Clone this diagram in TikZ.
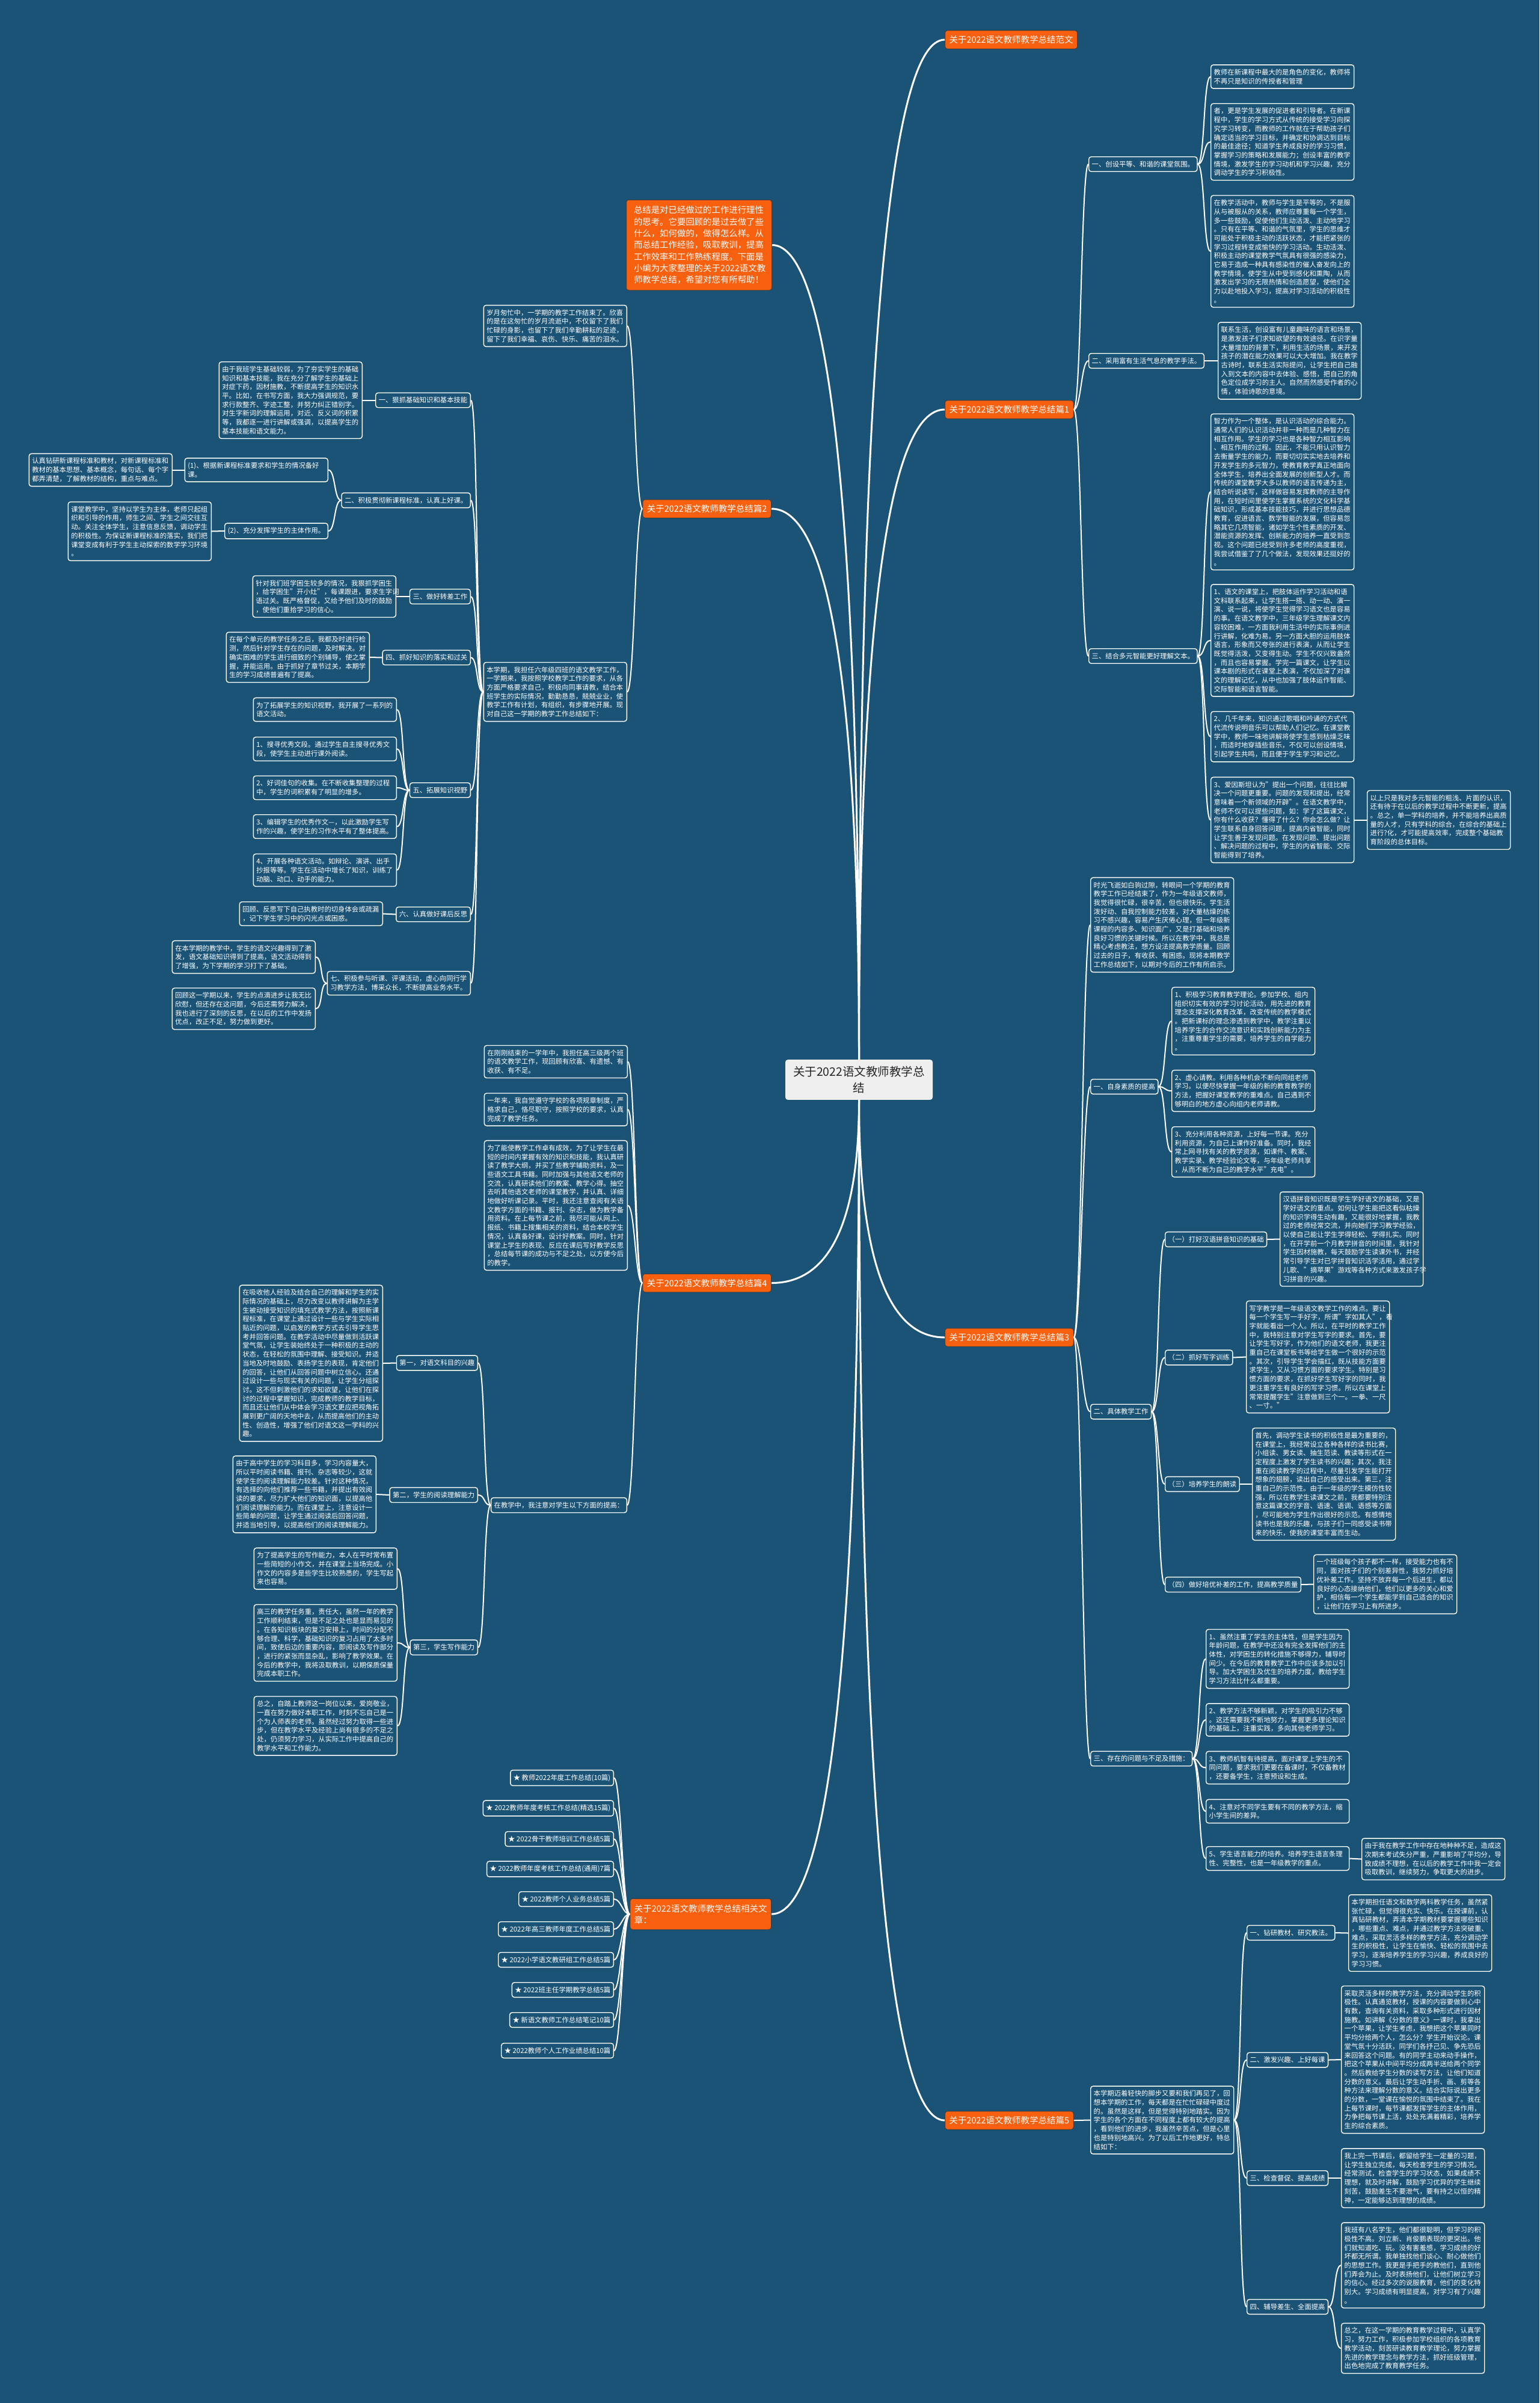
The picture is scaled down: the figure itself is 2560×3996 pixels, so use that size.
\documentclass[tikz,border=0pt]{standalone}
\usepackage{fontspec}
\setmainfont{Noto Sans CJK SC}
\usepackage{tikz}
\usetikzlibrary{calc}
\definecolor{bg}{RGB}{27,83,119}
\definecolor{orng}{RGB}{246,96,14}
\definecolor{rootfill}{RGB}{239,239,239}
\newcommand\boxfont{\fontsize{11.35}{14.7}\selectfont}
\newcommand\topicfont{\fontsize{14.5}{19}\selectfont}
\newcommand\introfont{\fontsize{14.4}{19.3}\selectfont}
\newcommand\rootfont{\fontsize{19.5}{26.5}\selectfont}
\tikzstyle{rootnode} = [rectangle, rounded corners=4pt, fill=rootfill, text=black!85, font=\rootfont, text width=222pt, align=center, inner xsep=11.5pt, inner ysep=11pt]
\tikzstyle{topic} = [rectangle, rounded corners=4pt, draw=black!75, line width=1pt, fill=orng, text=white, font=\topicfont, inner xsep=7pt, inner ysep=8.5pt]
\tikzstyle{introbox} = [rectangle, rounded corners=4pt, draw=black!75, line width=1pt, fill=orng, text=white, font=\introfont, text width=217pt, align=left, inner xsep=12.5pt, inner ysep=10.5pt]
\tikzstyle{textbox} = [rectangle, rounded corners=4pt, draw=white, line width=1.4pt, fill=bg, text=white, font=\boxfont, text width=228pt, align=left, inner xsep=5pt, inner ysep=7pt]
\tikzstyle{subtopic} = [rectangle, rounded corners=4pt, draw=white, line width=1.4pt, fill=bg, text=white, font=\boxfont, inner xsep=5pt, inner ysep=7pt]
\tikzstyle{link} = [draw=white, line width=2pt]
\tikzstyle{trunk} = [draw=white, line width=3pt]
\tikzstyle{rcurve} = [to path={.. controls +(12,0) and +(-12,0) .. (\tikztotarget)}]
\tikzstyle{lcurve} = [to path={.. controls +(-12,0) and +(12,0) .. (\tikztotarget)}]

\begin{document}
\begin{tikzpicture}[x=1pt, y=-1pt]

    \path [fill=bg, use as bounding box] (0,0) rectangle (2560,3996);

    \node (root) [rootnode] at (1428.5,1795.5) {关于2022语文教师教学总\\结};

    \node (sample) [topic, anchor=west] at (1571,66) {关于2022语文教师教学总结范文};

    \node (intro) [introbox, anchor=east] at (1284,407.5) {总结是对已经做过的工作进行理性\\的思考。它要回顾的是过去做了些\\什么，如何做的，做得怎么样。从\\而总结工作经验，吸取教训，提高\\工作效率和工作熟练程度。下面是\\小编为大家整理的关于2022语文教\\师教学总结，希望对您有所帮助！};

    \node (part_one) [topic, anchor=west] at (1571,681) {关于2022语文教师教学总结篇1};

    \node (part_two) [topic, anchor=east] at (1283,846) {关于2022语文教师教学总结篇2};

    \node (part_three) [topic, anchor=west] at (1571,2224) {关于2022语文教师教学总结篇3};

    \node (part_four) [topic, anchor=east] at (1283,2133.5) {关于2022语文教师教学总结篇4};

    \node (related) [topic, anchor=east, align=left, inner ysep=9.5pt] at (1283,3183) {关于2022语文教师教学总结相关文\\章：};

    \node (part_five) [topic, anchor=west] at (1571,3526) {关于2022语文教师教学总结篇5};

    % part one
    \node (p1_a) [subtopic, anchor=west] at (1810,273) {一、创设平等、和谐的课堂氛围。};

    \node (p1_a1) [textbox, anchor=west] at (2013,127.5) {教师在新课程中最大的是角色的变化，教师将\\不再只是知识的传授者和管理};

    \node (p1_a2) [textbox, anchor=west] at (2013,236) {者，更是学生发展的促进者和引导者。在新课\\程中，学生的学习方式从传统的接受学习向探\\究学习转变，而教师的工作就在于帮助孩子们\\确定适当的学习目标，并确定和协调达到目标\\的最佳途径；知道学生养成良好的学习习惯，\\掌握学习的策略和发展能力；创设丰富的教学\\情境，激发学生的学习动机和学习兴趣，充分\\调动学生的学习积极性。};

    \node (p1_a3) [textbox, anchor=west] at (2013,418) {在教学活动中，教师与学生是平等的，不是服\\从与被服从的关系，教师应尊重每一个学生，\\多一些鼓励，促使他们生动活泼、主动地学习\\。只有在平等、和谐的气氛里，学生的思维才\\可能处于积极主动的活跃状态，才能把紧张的\\学习过程转变成愉快的学习活动。生动活泼、\\积极主动的课堂教学气氛具有很强的感染力，\\它易于造成一种具有感染性的催人奋发向上的\\教学情境，使学生从中受到感化和熏陶，从而\\激发出学习的无限热情和创造愿望，使他们全\\力以赴地投入学习，提高对学习活动的积极性\\。};

    \node (p1_b) [subtopic, anchor=west] at (1810,600) {二、采用富有生活气息的教学手法。};

    \node (p1_b1) [textbox, anchor=west] at (2025,600) {联系生活，创设富有儿童趣味的语言和场景，\\是激发孩子们求知欲望的有效途径。在识字量\\大量增加的背景下，利用生活的场景，来开发\\孩子的潜在能力效果可以大大增加。我在教学\\古诗时，联系生活实际提问，让学生把自己融\\入到文本的内容中去体验、感悟，把自己的角\\色定位成学习的主人。自然而然感受作者的心\\情，体验诗歌的意境。};

    \node (p1_c) [subtopic, anchor=west] at (1810,1091) {三、结合多元智能更好理解文本。};

    \node (p1_c1) [textbox, anchor=west] at (2013,818) {智力作为一个整体，是认识活动的综合能力。\\通常人们的认识活动并非一种而是几种智力在\\相互作用。学生的学习也是各种智力相互影响\\、相互作用的过程。因此，不能只用认识智力\\去衡量学生的能力，而要切切实实地去培养和\\开发学生的多元智力，使教育教学真正地面向\\全体学生，培养出全面发展的创新型人才。而\\传统的课堂教学大多以教师的语言传递为主，\\结合听说读写，这样做容易发挥教师的主导作\\用，在短时间里使学生掌握系统的文化科学基\\础知识，形成基本技能技巧，并进行思想品德\\教育，促进语言、数学智能的发展，但容易忽\\略其它几项智能，诸如学生个性素质的开发、\\潜能资源的发挥、创新能力的培养一直受到忽\\视。这个问题已经受到许多老师的高度重视，\\我尝试借鉴了了几个做法，发现效果还挺好的\\。};

    \node (p1_c2) [textbox, anchor=west] at (2013,1065) {1、语文的课堂上，把肢体运作学习活动和语\\文科联系起来，让学生搭一搭、动一动、演一\\演、说一说，将使学生觉得学习语文也是容易\\的事。在语文教学中，三年级学生理解课文内\\容较困难，一方面我利用生活中的实际事例进\\行讲解，化难为易。另一方面大胆的运用肢体\\语言，形象而又夸张的进行表演，从而让学生\\既觉得活泼，又变得生动。学生不仅兴致盎然\\，而且也容易掌握。学完一篇课文，让学生以\\课本剧的形式在课堂上表演，不仅加深了对课\\文的理解记忆，从中也加强了肢体运作智能、\\交际智能和语言智能。};

    \node (p1_c3) [textbox, anchor=west] at (2013,1225) {2、几千年来，知识通过歌唱和吟诵的方式代\\代流传说明音乐可以帮助人们记忆。在课堂教\\学中，教师一味地讲解将使学生感到枯燥乏味\\，而适时地穿插些音乐，不仅可以创设情境，\\引起学生共鸣，而且便于学生学习和记忆。};

    \node (p1_c4) [textbox, anchor=west] at (2013,1363.5) {3、爱因斯坦认为"提出一个问题，往往比解\\决一个问题更重要。问题的发现和提出，经常\\意味着一个新领域的开辟"。在语文教学中，\\老师不仅可以提些问题，如：学了这篇课文，\\你有什么收获？懂得了什么？你会怎么做？让\\学生联系自身回答问题，提高内省智能，同时\\让学生善于发现问题。在发现问题、提出问题\\、解决问题的过程中，学生的内省智能、交际\\智能得到了培养。};

    \node (p1_c5) [textbox, anchor=west] at (2273,1363.5) {以上只是我对多元智能的粗浅、片面的认识，\\还有待于在以后的教学过程中不断更新，提高\\。总之，单一学科的培养，并不能培养出高质\\量的人才，只有学科的综合，在综合的基础上\\进行?化，才可能提高效率，完成整个基础教\\育阶段的总体目标。};

    % part two
    \node (p2_open) [textbox, anchor=east] at (1043,542) {岁月匆忙中，一学期的教学工作结束了。欣喜\\的是在这匆忙的岁月流逝中，不仅留下了我们\\忙碌的身影，也留下了我们辛勤耕耘的足迹，\\留下了我们幸福、哀伤、快乐、痛苦的泪水。};

    \node (p2_main) [textbox, anchor=east] at (1043,1150.5) {本学期，我担任六年级四班的语文教学工作，\\一学期来，我按照学校教学工作的要求，从各\\方面严格要求自己，积极向同事请教，结合本\\班学生的实际情况，勤勤恳恳，兢兢业业，使\\教学工作有计划，有组织，有步骤地开展。现\\对自己这一学期的教学工作总结如下：};

    \node (p2_a) [subtopic, anchor=east] at (783,665.5) {一、狠抓基础知识和基本技能};

    \node (p2_a1) [textbox, anchor=east] at (603,665.5) {由于我班学生基础较弱，为了夯实学生的基础\\知识和基本技能，我在充分了解学生的基础上\\对症下药，因材施教，不断提高学生的知识水\\平。比如，在书写方面，我大力强调规范，要\\求行款整齐、字迹工整，并努力纠正错别字。\\对生字新词的理解运用，对近、反义词的积累\\等，我都逐一进行讲解或强调，以提高学生的\\基本技能和语文能力。};

    \node (p2_b) [subtopic, anchor=east] at (783,832) {二、积极贯彻新课程标准，认真上好课。};

    \node (p2_b1) [textbox, anchor=east] at (546,781.5) {(1)、根据新课程标准要求和学生的情况备好\\课。};

    \node (p2_b1t) [textbox, anchor=east] at (287,781.5) {认真钻研新课程标准和教材，对新课程标准和\\教材的基本思想、基本概念，每句话、每个字\\都弄清楚，了解教材的结构，重点与难点。};

    \node (p2_b2) [subtopic, anchor=east] at (546,883) {(2)、充分发挥学生的主体作用。};

    \node (p2_b2t) [textbox, anchor=east] at (352,883.5) {课堂教学中，坚持以学生为主体，老师只起组\\织和引导的作用，师生之间、学生之间交往互\\动。关注全体学生，注意信息反馈，调动学生\\的积极性。为保证新课程标准的落实，我们把\\课堂变成有利于学生主动探索的数学学习环境\\。};

    \node (p2_c) [subtopic, anchor=east] at (783,992) {三、做好转差工作};

    \node (p2_c1) [textbox, anchor=east] at (659,992) {针对我们班学困生较多的情况，我狠抓学困生\\，给学困生"开小灶"，每课跟进，要求生字词\\语过关。既严格督促，又给予他们及时的鼓励\\，使他们重拾学习的信心。};

    \node (p2_d) [subtopic, anchor=east] at (783,1093.5) {四、抓好知识的落实和过关};

    \node (p2_d1) [textbox, anchor=east] at (615,1093) {在每个单元的教学任务之后，我都及时进行检\\测，然后针对学生存在的问题，及时解决。对\\确实困难的学生进行细致的个别辅导，使之掌\\握，并能运用。由于抓好了章节过关，本期学\\生的学习成绩普遍有了提高。};

    \node (p2_e) [subtopic, anchor=east] at (783,1314) {五、拓展知识视野};

    \node (p2_e0) [textbox, anchor=east] at (660,1180) {为了拓展学生的知识视野，我开展了一系列的\\语文活动。};

    \node (p2_e1) [textbox, anchor=east] at (660,1245.5) {1、搜寻优秀文段。通过学生自主搜寻优秀文\\段，使学生主动进行课外阅读。};

    \node (p2_e2) [textbox, anchor=east] at (660,1310) {2、好词佳句的收集。在不断收集整理的过程\\中，学生的词积累有了明显的增多。};

    \node (p2_e3) [textbox, anchor=east] at (660,1374.5) {3、编辑学生的优秀作文—，以此激励学生写\\作的兴趣，使学生的习作水平有了整体提高。};

    \node (p2_e4) [textbox, anchor=east] at (660,1447) {4、开展各种语文活动。如辩论、演讲、出手\\抄报等等。学生在活动中增长了知识，训练了\\动脑、动口、动手的能力。};

    \node (p2_f) [subtopic, anchor=east] at (783,1520.5) {六、认真做好课后反思};

    \node (p2_f1) [textbox, anchor=east] at (637,1519.5) {回顾、反思写下自己执教时的切身体会或疏漏\\，记下学生学习中的闪光点或困惑。};

    \node (p2_g) [textbox, anchor=east] at (783,1635) {七、积极参与听课、评课活动，虚心向同行学\\习教学方法，博采众长，不断提高业务水平。};

    \node (p2_g1) [textbox, anchor=east] at (525,1591.5) {在本学期的教学中，学生的语文兴趣得到了激\\发，语文基础知识得到了提高，语文活动得到\\了增强，为下学期的学习打下了基础。};

    \node (p2_g2) [textbox, anchor=east] at (525,1677.5) {回顾这一学期以来，学生的点滴进步让我无比\\欣慰，但还存在这问题，今后还需努力解决，\\我也进行了深刻的反思，在以后的工作中发扬\\优点，改正不足，努力做到更好。};

    % part three
    \node (p3_open) [textbox, anchor=west] at (1813,1538) {时光飞逝如白驹过隙，转眼间一个学期的教育\\教学工作已经结束了，作为一年级语文教师，\\我觉得很忙碌，很辛苦，但也很快乐。学生活\\泼好动、自我控制能力较差，对大量枯燥的练\\习不感兴趣，容易产生厌倦心理，但一年级新\\课程的内容多、知识面广，又是打基础和培养\\良好习惯的关键时候。所以在教学中，我总是\\精心考虑教法，想方设法提高教学质量。回顾\\过去的日子，有收获、有困惑。现将本期教学\\工作总结如下，以期对今后的工作有所启示。};

    \node (p3_a) [subtopic, anchor=west] at (1813,1807) {一、自身素质的提高};

    \node (p3_a1) [textbox, anchor=west] at (1948,1698) {1、积极学习教育教学理论。参加学校、组内\\组织切实有效的学习讨论活动，用先进的教育\\理念支撑深化教育改革，改变传统的教学模式\\。把新课标的理念渗透到教学中，教学注重以\\培养学生的合作交流意识和实践创新能力为主\\，注重尊重学生的需要，培养学生的自学能力\\。};

    \node (p3_a2) [textbox, anchor=west] at (1948,1814) {2、虚心请教。利用各种机会不断向同组老师\\学习。以便尽快掌握一年级的新的教育教学的\\方法，把握好课堂教学的重难点。自己遇到不\\够明白的地方虚心向组内老师请教。};

    \node (p3_a3) [textbox, anchor=west] at (1948,1915.5) {3、充分利用各种资源，上好每一节课。充分\\利用资源，为自己上课作好准备。同时，我经\\常上网寻找有关的教学资源，如课件、教案、\\教学实录、教学经验论文等，与年级老师共享\\，从而不断为自己的教学水平"充电"。};

    \node (p3_b) [subtopic, anchor=west] at (1813,2347.5) {二、具体教学工作};

    \node (p3_b1) [subtopic, anchor=west] at (1937,2061) {（一）打好汉语拼音知识的基础};

    \node (p3_b1t) [textbox, anchor=west] at (2128,2060.5) {汉语拼音知识既是学生学好语文的基础，又是\\学好语文的重点。如何让学生能把这看似枯燥\\的知识学得生动有趣，又能很好地掌握，我教\\过的老师经常交流，并向她们学习教学经验，\\以使自己能让学生学得轻松、学得扎实。同时\\，在开学前一个月教学拼音的时间里，我针对\\学生因材施教，每天鼓励学生读课外书，并经\\常引导学生对已学拼音知识活学活用，通过学\\儿歌、"摘苹果"游戏等各种方式来激发孩子学\\习拼音的兴趣。};

    \node (p3_b2) [subtopic, anchor=west] at (1937,2257.5) {（二）抓好写字训练};

    \node (p3_b2t) [textbox, anchor=west] at (2072,2256.5) {写字教学是一年级语文教学工作的难点。要让\\每一个学生写一手好字，所谓"字如其人"，看\\字就能看出一个人。所以，在平时的教学工作\\中，我特别注意对学生写字的要求。首先，要\\让学生写好字，作为他们的语文老师，我更注\\重自己在课堂板书等给学生做一个很好的示范\\。其次，引导学生学会描红，既从技能方面要\\求学生，又从习惯方面的要求学生。特别是习\\惯方面的要求，在抓好学生写好字的同时，我\\更注重学生有良好的写字习惯。所以在课堂上\\常常提醒学生"注意做到三个一。一拳、一尺\\、一寸。"};

    \node (p3_b3) [subtopic, anchor=west] at (1937,2468) {（三）培养学生的朗读};

    \node (p3_b3t) [textbox, anchor=west] at (2082,2468) {首先，调动学生读书的积极性是最为重要的，\\在课堂上，我经常设立各种各样的读书比赛，\\小组读、男女读、抽生范读、教读等形式在一\\定程度上激发了学生读书的兴趣；其次，我注\\重在阅读教学的过程中，尽量引发学生能打开\\想象的翅膀，读出自己的感受出来。第三，注\\重自己的示范性。由于一年级的学生模仿性较\\强，所以在教学生读课文之前，我都要特别注\\意这篇课文的字音、语速、语调、语感等方面\\，尽可能地为学生作出很好的示范。有感情地\\读书也是我的乐趣，与孩子们一同感受读书带\\来的快乐，使我的课堂丰富而生动。};

    \node (p3_b4) [subtopic, anchor=west] at (1937,2635) {（四）做好培优补差的工作，提高教学质量};

    \node (p3_b4t) [textbox, anchor=west] at (2184,2634.5) {一个班级每个孩子都不一样，接受能力也有不\\同，面对孩子们的个别差异性，我努力抓好培\\优补差工作。坚持不放弃每一个后进生，都以\\良好的心态接纳他们，他们以更多的关心和爱\\护，相信每一个学生都能学到自己适合的知识\\，让他们在学习上有所进步。};

    \node (p3_c) [subtopic, anchor=west] at (1813,2924.5) {三、存在的问题与不足及措施：};

    \node (p3_c1) [textbox, anchor=west] at (2005,2758.5) {1、虽然注重了学生的主体性，但是学生因为\\年龄问题，在教学中还没有完全发挥他们的主\\体性，对学困生的转化措施不够得力，辅导时\\间少。在今后的教育教学工作中应该多加以引\\导。加大学困生及优生的培养力度，教给学生\\学习方法比什么都重要。};

    \node (p3_c2) [textbox, anchor=west] at (2005,2860) {2、教学方法不够新颖，对学生的吸引力不够\\。这还需要我不断地努力，掌握更多理论知识\\的基础上，注重实践，多向其他老师学习。};

    \node (p3_c3) [textbox, anchor=west] at (2005,2939.5) {3、教师机智有待提高，面对课堂上学生的不\\同问题，要求我们更要在备课时，不仅备教材\\，还要备学生，注意预设和生成。};

    \node (p3_c4) [textbox, anchor=west] at (2005,3012) {4、注意对不同学生要有不同的教学方法，缩\\小学生间的差异。};

    \node (p3_c5) [textbox, anchor=west] at (2005,3090.5) {5、学生语言能力的培养。培养学生语言条理\\性、完整性，也是一年级教学的重点。};

    \node (p3_c6) [textbox, anchor=west] at (2264,3091.5) {由于我在教学工作中存在地种种不足，造成这\\次期末考试失分严重，严重影响了平均分，导\\致成绩不理想，在以后的教学工作中我一定会\\吸取教训，继续努力，争取更大的进步。};

    % part four
    \node (p4_m1) [textbox, anchor=east] at (1044,1765.5) {在刚刚结束的一学年中，我担任高三级两个班\\的语文教学工作，现回顾有欣喜、有遗憾、有\\收获、有不足。};

    \node (p4_m2) [textbox, anchor=east] at (1044,1845) {一年来，我自觉遵守学校的各项规章制度，严\\格求自己，恪尽职守，按照学校的要求，认真\\完成了教学任务。};

    \node (p4_m3) [textbox, anchor=east] at (1044,2004.5) {为了能使教学工作卓有成效，为了让学生在最\\短的时间内掌握有效的知识和技能，我认真研\\读了教学大纲，并买了些教学辅助资料，及一\\些语文工具书籍。同时加强与其他语文老师的\\交流，认真研读他们的教案、教学心得。抽空\\去听其他语文老师的课堂教学，并认真、详细\\地做好听课记录。平时，我还注意查阅有关语\\文教学方面的书籍、报刊、杂志，做为教学备\\用资料。在上每节课之前，我尽可能从网上、\\报纸、书籍上搜集相关的资料，结合本校学生\\情况，认真备好课，设计好教案。同时，针对\\课堂上学生的表现、反应在课后写好教学反思\\，总结每节课的成功与不足之处，以方便今后\\的教学。};

    \node (p4_key) [subtopic, anchor=east] at (1043,2503) {在教学中，我注意对学生以下方面的提高：};

    \node (p4_a) [subtopic, anchor=east] at (795,2266.5) {第一，对语文科目的兴趣};

    \node (p4_a1) [textbox, anchor=east] at (637,2267) {在吸收他人经验及结合自己的理解和学生的实\\际情况的基础上，尽力改变以教师讲解为主学\\生被动接受知识的填充式教学方法，按照新课\\程标准，在课堂上通过设计一些与学生实际相\\贴近的问题，以启发的教学方式去引导学生思\\考并回答问题。在教学活动中尽量做到活跃课\\堂气氛，让学生装始终处于一种积极的主动的\\状态，在轻松的氛围中理解、接受知识。并适\\当地及时地鼓励、表扬学生的表现，肯定他们\\的回答，让他们从回答问题中树立信心。还通\\过设计一些与现实有关的问题，让学生分组探\\讨。这不但刺激他们的求知欲望，让他们在探\\讨的过程中掌握知识，完成教师的教学目标，\\而且还让他们从中体会学习语文更应把视角拓\\展到更广阔的天地中去，从而提高他们的主动\\性、创造性，增强了他们对语文这一学科的兴\\趣。};

    \node (p4_b) [subtopic, anchor=east] at (795,2486) {第二，学生的阅读理解能力};

    \node (p4_b1) [textbox, anchor=east] at (626,2485) {由于高中学生的学习科目多，学习内容量大，\\所以平时阅读书籍、报刊、杂志等较少，这就\\使学生的阅读理解能力较差。针对这种情况，\\有选择的向他们推荐一些书籍，并提出有效阅\\读的要求，尽力扩大他们的知识面，以提高他\\们阅读理解的能力。而在课堂上，注意设计一\\些简单的问题，让学生通过阅读后回答问题，\\并适当地引导，以提高他们的阅读理解能力。};

    \node (p4_c) [subtopic, anchor=east] at (795,2739.5) {第三，学生写作能力};

    \node (p4_c1) [textbox, anchor=east] at (661,2608.5) {为了提高学生的写作能力，本人在平时常布置\\一些简短的小作文，并在课堂上当场完成。小\\作文的内容多是些学生比较熟悉的，学生写起\\来也容易。};

    \node (p4_c2) [textbox, anchor=east] at (661,2732) {高三的教学任务重，责任大，虽然一年的教学\\工作顺利结束，但是不足之处也是显而易见的\\。在各知识板块的复习安排上，时间的分配不\\够合理、科学，基础知识的复习占用了太多时\\间，致使后边的重要内容，即阅读及写作部分\\，进行的紧张而显杂乱，影响了教学效果。在\\今后的教学中，我将汲取教训，以期保质保量\\完成本职工作。};

    \node (p4_c3) [textbox, anchor=east] at (661,2870) {总之，自踏上教师这一岗位以来，爱岗敬业，\\一直在努力做好本职工作，时刻不忘自己是一\\个为人师表的老师。虽然经过努力取得一些进\\步，但在教学水平及经验上尚有很多的不足之\\处，仍须努力学习，从实际工作中提高自己的\\教学水平和工作能力。};

    % related articles
    \node (rel_1) [subtopic, anchor=east] at (1021,2956.5) {★ 教师2022年度工作总结(10篇)};

    \node (rel_2) [subtopic, anchor=east] at (1021,3007) {★ 2022教师年度考核工作总结(精选15篇)};

    \node (rel_3) [subtopic, anchor=east] at (1021,3058) {★ 2022骨干教师培训工作总结5篇};

    \node (rel_4) [subtopic, anchor=east] at (1021,3108) {★ 2022教师年度考核工作总结(通用)7篇};

    \node (rel_5) [subtopic, anchor=east] at (1021,3158) {★ 2022教师个人业务总结5篇};

    \node (rel_6) [subtopic, anchor=east] at (1021,3208) {★ 2022年高三教师年度工作总结5篇};

    \node (rel_7) [subtopic, anchor=east] at (1021,3259) {★ 2022小学语文教研组工作总结5篇};

    \node (rel_8) [subtopic, anchor=east] at (1021,3309) {★ 2022班主任学期教学总结5篇};

    \node (rel_9) [subtopic, anchor=east] at (1021,3359) {★ 新语文教师工作总结笔记10篇};

    \node (rel_10) [subtopic, anchor=east] at (1021,3410) {★ 2022教师个人工作业绩总结10篇};

    % part five
    \node (p5_open) [textbox, anchor=west] at (1813,3525.5) {本学期迈着轻快的脚步又要和我们再见了，回\\想本学期的工作，每天都是在忙忙碌碌中度过\\的。虽然是这样，但是觉得特别地踏实。因为\\学生的各个方面在不同程度上都有较大的提高\\，看到他们的进步，我虽然辛苦点，但是心里\\也是特别地高兴。为了以后工作地更好，特总\\结如下：};

    \node (p5_a) [subtopic, anchor=west] at (2073,3214) {一、钻研教材、研究教法。};

    \node (p5_a1) [textbox, anchor=west] at (2242,3214.5) {本学期担任语文和数学两科教学任务，虽然紧\\张忙碌，但觉得很充实、快乐。在授课前，认\\真钻研教材，弄清本学期教材要掌握哪些知识\\，哪些重点、难点，并通过教学方法突破重、\\难点，采取灵活多样的教学方法，充分调动学\\生的积极性，让学生在愉快、轻松的氛围中去\\学习，逐渐培养学生的学习兴趣，养成良好的\\学习习惯。};

    \node (p5_b) [subtopic, anchor=west] at (2073,3425.5) {二、激发兴趣、上好每课};

    \node (p5_b1) [textbox, anchor=west] at (2230,3425) {采取灵活多样的教学方法，充分调动学生的积\\极性。认真通览教材，授课的内容要做到心中\\有数，查询有关资料，采取多种形式进行因材\\施教。如讲解《分数的意义》一课时，我拿出\\一个苹果，让学生考虑，我想把这个苹果同时\\平均分给两个人，怎么分？学生开始议论。课\\堂气氛十分活跃，同学们各抒己见、争先恐后\\来回答这个问题。有的同学主动来动手操作，\\把这个苹果从中间平均分成两半送给两个同学\\。然后教给学生分数的读写方法，让他们知道\\分数的意义。最后让学生动手折、画、剪等各\\种方法来理解分数的意义。结合实际说出更多\\的分数，一堂课在愉悦的氛围中结束了。我在\\上每节课时，每节课都发挥学生的主体作用，\\力争把每节课上活，处处充满着精彩，培养学\\生的综合素质。};

    \node (p5_c) [subtopic, anchor=west] at (2073,3622) {三、检查督促、提高成绩};

    \node (p5_c1) [textbox, anchor=west] at (2230,3622) {我上完一节课后，都留给学生一定量的习题，\\让学生独立完成，每天检查学生的学习情况。\\经常测试，检查学生的学习状态，如果成绩不\\理想，就及时讲解，鼓励学习优异的学生继续\\刻苦，鼓励差生不要泄气，要有持之以恒的精\\神，一定能够达到理想的成绩。};

    \node (p5_d) [subtopic, anchor=west] at (2073,3836) {四、辅导差生、全面提高};

    \node (p5_d1) [textbox, anchor=west] at (2230,3767) {我班有八名学生，他们都很聪明，但学习的积\\极性不高。刘立新、肖俊鹏表现的更突出。他\\们就知道吃、玩。没有害羞感，学习成绩的好\\坏都无所谓。我单独找他们谈心、耐心做他们\\的思想工作。我更是手把手的教他们，直到他\\们弄会为止。及时表扬他们，让他们树立学习\\的信心。经过多次的说服教育，他们的变化特\\别大。学习成绩有明显提高，对学习有了兴趣\\。};

    \node (p5_d2) [textbox, anchor=west] at (2230,3905) {总之，在这一学期的教育教学过程中，认真学\\习，努力工作，积极参加学校组织的各项教育\\教学活动，刻苦研读教育教学理论，努力掌握\\先进的教学理念与教学方法，抓好班级管理，\\出色地完成了教育教学任务。};

    % connectors from the root
    \draw [trunk] (root.north) .. controls +(0,-1130) and +(-95,0) .. (sample.west);
    \draw [trunk] (root.north) .. controls +(0,-720) and +(-95,0) .. (part_one.west);
    \draw [trunk] (root.north) .. controls +(0,-902) and +(96,0) .. (intro.east);
    \draw [trunk] (root.north) .. controls +(0,-610) and +(97,0) .. (part_two.east);
    \draw [trunk] (root.south) .. controls +(0,202) and +(97,0) .. (part_four.east);
    \draw [trunk] (root.south) .. controls +(0,263) and +(-95,0) .. (part_three.west);
    \draw [trunk] (root.south) .. controls +(0,902) and +(97,0) .. (related.east);
    \draw [trunk] (root.south) .. controls +(0,1131) and +(-95,0) .. (part_five.west);

    \draw [link] (part_one.east) to[rcurve] (p1_a.west);
    \draw [link] (part_one.east) to[rcurve] (p1_b.west);
    \draw [link] (part_one.east) to[rcurve] (p1_c.west);
    \draw [link] (p1_a.east) to[rcurve] (p1_a1.west);
    \draw [link] (p1_a.east) to[rcurve] (p1_a2.west);
    \draw [link] (p1_a.east) to[rcurve] (p1_a3.west);
    \draw [link] (p1_b.east) to[rcurve] (p1_b1.west);
    \draw [link] (p1_c.east) to[rcurve] (p1_c1.west);
    \draw [link] (p1_c.east) to[rcurve] (p1_c2.west);
    \draw [link] (p1_c.east) to[rcurve] (p1_c3.west);
    \draw [link] (p1_c.east) to[rcurve] (p1_c4.west);
    \draw [link] (p1_c4.east) -- (p1_c5.west);

    \draw [link] (part_two.west) to[lcurve] (p2_open.east);
    \draw [link] (part_two.west) to[lcurve] (p2_main.east);
    \draw [link] (p2_main.west) to[lcurve] (p2_a.east);
    \draw [link] (p2_main.west) to[lcurve] (p2_b.east);
    \draw [link] (p2_main.west) to[lcurve] (p2_c.east);
    \draw [link] (p2_main.west) to[lcurve] (p2_d.east);
    \draw [link] (p2_main.west) to[lcurve] (p2_e.east);
    \draw [link] (p2_main.west) to[lcurve] (p2_f.east);
    \draw [link] (p2_main.west) to[lcurve] (p2_g.east);
    \draw [link] (p2_a.west) -- (p2_a1.east);
    \draw [link] (p2_b.west) to[lcurve] (p2_b1.east);
    \draw [link] (p2_b.west) to[lcurve] (p2_b2.east);
    \draw [link] (p2_b1.west) -- (p2_b1t.east);
    \draw [link] (p2_b2.west) -- (p2_b2t.east);
    \draw [link] (p2_c.west) -- (p2_c1.east);
    \draw [link] (p2_d.west) -- (p2_d1.east);
    \draw [link] (p2_e.west) to[lcurve] (p2_e0.east);
    \draw [link] (p2_e.west) to[lcurve] (p2_e1.east);
    \draw [link] (p2_e.west) to[lcurve] (p2_e2.east);
    \draw [link] (p2_e.west) to[lcurve] (p2_e3.east);
    \draw [link] (p2_e.west) to[lcurve] (p2_e4.east);
    \draw [link] (p2_f.west) -- (p2_f1.east);
    \draw [link] (p2_g.west) to[lcurve] (p2_g1.east);
    \draw [link] (p2_g.west) to[lcurve] (p2_g2.east);

    \draw [link] (part_three.east) to[rcurve] (p3_open.west);
    \draw [link] (part_three.east) to[rcurve] (p3_a.west);
    \draw [link] (part_three.east) to[rcurve] (p3_b.west);
    \draw [link] (part_three.east) to[rcurve] (p3_c.west);
    \draw [link] (p3_a.east) to[rcurve] (p3_a1.west);
    \draw [link] (p3_a.east) to[rcurve] (p3_a2.west);
    \draw [link] (p3_a.east) to[rcurve] (p3_a3.west);
    \draw [link] (p3_b.east) to[rcurve] (p3_b1.west);
    \draw [link] (p3_b.east) to[rcurve] (p3_b2.west);
    \draw [link] (p3_b.east) to[rcurve] (p3_b3.west);
    \draw [link] (p3_b.east) to[rcurve] (p3_b4.west);
    \draw [link] (p3_b1.east) -- (p3_b1t.west);
    \draw [link] (p3_b2.east) -- (p3_b2t.west);
    \draw [link] (p3_b3.east) -- (p3_b3t.west);
    \draw [link] (p3_b4.east) -- (p3_b4t.west);
    \draw [link] (p3_c.east) to[rcurve] (p3_c1.west);
    \draw [link] (p3_c.east) to[rcurve] (p3_c2.west);
    \draw [link] (p3_c.east) to[rcurve] (p3_c3.west);
    \draw [link] (p3_c.east) to[rcurve] (p3_c4.west);
    \draw [link] (p3_c.east) to[rcurve] (p3_c5.west);
    \draw [link] (p3_c5.east) -- (p3_c6.west);

    \draw [link] (part_four.west) to[lcurve] (p4_m1.east);
    \draw [link] (part_four.west) to[lcurve] (p4_m2.east);
    \draw [link] (part_four.west) to[lcurve] (p4_m3.east);
    \draw [link] (part_four.west) to[lcurve] (p4_key.east);
    \draw [link] (p4_key.west) to[lcurve] (p4_a.east);
    \draw [link] (p4_key.west) to[lcurve] (p4_b.east);
    \draw [link] (p4_key.west) to[lcurve] (p4_c.east);
    \draw [link] (p4_a.west) -- (p4_a1.east);
    \draw [link] (p4_b.west) -- (p4_b1.east);
    \draw [link] (p4_c.west) to[lcurve] (p4_c1.east);
    \draw [link] (p4_c.west) to[lcurve] (p4_c2.east);
    \draw [link] (p4_c.west) to[lcurve] (p4_c3.east);

    \draw [link] (related.west) to[lcurve] (rel_1.east);
    \draw [link] (related.west) to[lcurve] (rel_2.east);
    \draw [link] (related.west) to[lcurve] (rel_3.east);
    \draw [link] (related.west) to[lcurve] (rel_4.east);
    \draw [link] (related.west) to[lcurve] (rel_5.east);
    \draw [link] (related.west) to[lcurve] (rel_6.east);
    \draw [link] (related.west) to[lcurve] (rel_7.east);
    \draw [link] (related.west) to[lcurve] (rel_8.east);
    \draw [link] (related.west) to[lcurve] (rel_9.east);
    \draw [link] (related.west) to[lcurve] (rel_10.east);

    \draw [link] (part_five.east) -- (p5_open.west);
    \draw [link] (p5_open.east) to[rcurve] (p5_a.west);
    \draw [link] (p5_open.east) to[rcurve] (p5_b.west);
    \draw [link] (p5_open.east) to[rcurve] (p5_c.west);
    \draw [link] (p5_open.east) to[rcurve] (p5_d.west);
    \draw [link] (p5_a.east) -- (p5_a1.west);
    \draw [link] (p5_b.east) -- (p5_b1.west);
    \draw [link] (p5_c.east) -- (p5_c1.west);
    \draw [link] (p5_d.east) to[rcurve] (p5_d1.west);
    \draw [link] (p5_d.east) to[rcurve] (p5_d2.west);

\end{tikzpicture}
\end{document}
